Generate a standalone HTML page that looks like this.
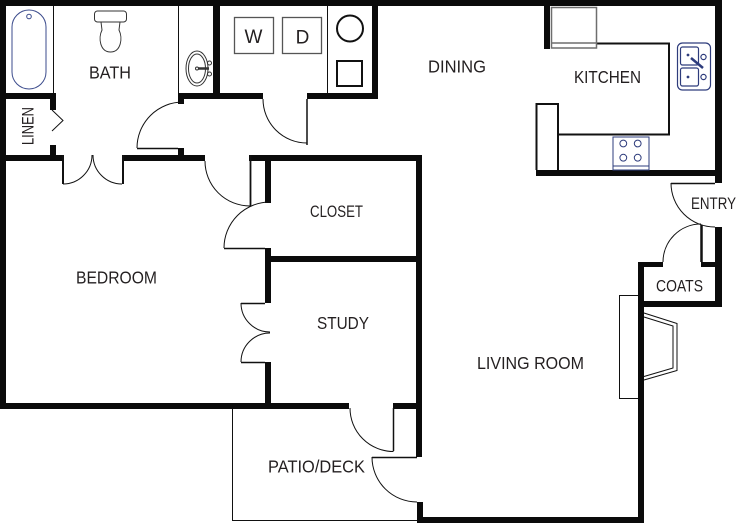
<!DOCTYPE html>
<html><head><meta charset="utf-8"><style>
html,body{margin:0;padding:0;background:#fff;}
svg{display:block;}
text{font-family:"Liberation Sans",Arial,sans-serif;fill:#231f20;}
</style></head><body>
<svg width="736" height="524" viewBox="0 0 736 524" xmlns="http://www.w3.org/2000/svg">
<rect width="736" height="524" fill="#fff"/>

<!-- thin partition lines -->
<g stroke="#111" stroke-width="1" fill="none">
  <line x1="53.5" y1="6" x2="53.5" y2="93"/>
  <line x1="178.5" y1="6" x2="178.5" y2="93"/>
  <line x1="327.5" y1="6" x2="327.5" y2="93"/>
  <polyline points="232.5,408 232.5,520.5 417,520.5"/>
  <rect x="619.5" y="295.5" width="19" height="103"/>
  <polyline points="644,313 677,323.5 677,370.5 644,380"/>
  <polyline points="644,317 673,326 673,368 644,376.5"/>
  <polyline points="52,110 63,120.5 52,131"/>
</g>

<!-- walls -->
<g fill="#0b0b0b">
  <rect x="0" y="0" width="722" height="6"/>
  <rect x="0" y="0" width="6" height="409"/>
  <rect x="0" y="93" width="56" height="6"/>
  <rect x="50" y="93" width="6" height="17"/>
  <rect x="50" y="145" width="6" height="16"/>
  <rect x="0" y="155" width="63" height="6"/>
  <rect x="122" y="155" width="83" height="6"/>
  <rect x="178" y="148" width="6" height="13"/>
  <rect x="178" y="93" width="85" height="6"/>
  <rect x="178" y="93" width="6" height="11"/>
  <rect x="213" y="0" width="7" height="99"/>
  <rect x="307" y="93" width="71" height="6"/>
  <rect x="372" y="0" width="6" height="99"/>
  <rect x="249" y="155" width="173" height="6"/>
  <rect x="265" y="155" width="6" height="48"/>
  <rect x="265" y="256" width="157" height="6"/>
  <rect x="265" y="248" width="6" height="55"/>
  <rect x="265" y="362" width="6" height="46"/>
  <rect x="416" y="155" width="6" height="302"/>
  <rect x="0" y="403" width="349" height="6"/>
  <rect x="393" y="403" width="29" height="6"/>
  <rect x="417" y="502" width="6" height="21"/>
  <rect x="417" y="517" width="227" height="6"/>
  <rect x="638" y="262" width="6" height="261"/>
  <rect x="638" y="262" width="25" height="5"/>
  <rect x="701" y="262" width="21" height="5"/>
  <rect x="638" y="301" width="84" height="6"/>
  <rect x="715" y="227" width="7" height="80"/>
  <rect x="715" y="0" width="7" height="183"/>
  <rect x="536" y="170" width="186" height="6"/>
  <rect x="544" y="0" width="6" height="49"/>
</g>

<!-- door arcs -->
<g stroke="#111" stroke-width="1" fill="none">
  <path d="M92,155 A29,29 0 0 1 63,184"/>
  <path d="M93,155 A29,29 0 0 0 122,184"/>
  <path d="M137,148 A46,46 0 0 1 183,102"/>
  <path d="M263,99 A44,44 0 0 0 307,143"/>
  <path d="M205,161 A45,45 0 0 0 250,206"/>
  <path d="M270,202 A46,46 0 0 0 224,248"/>
  <path d="M241,303 A29,29 0 0 0 270,332"/>
  <path d="M241,362 A29,29 0 0 1 270,333"/>
  <path d="M350,408 A43.5,43.5 0 0 0 393.5,451.5"/>
  <path d="M372,457 A45,45 0 0 0 417,502"/>
  <path d="M671,183 A44,44 0 0 0 715,227"/>
  <path d="M701,224 A38,38 0 0 0 663,262"/>
</g>

<!-- door leaves & jambs -->
<g stroke="#111" fill="none">
  <line x1="63" y1="155" x2="63" y2="184" stroke-width="2"/>
  <line x1="123" y1="155" x2="123" y2="184" stroke-width="2"/>
  <line x1="137" y1="148.5" x2="178" y2="148.5" stroke-width="1.5"/>
  <line x1="307" y1="99" x2="307" y2="145" stroke-width="1.5"/>
  <line x1="250.5" y1="155" x2="250.5" y2="206" stroke-width="1.8"/>
  <line x1="224" y1="248.5" x2="265" y2="248.5" stroke-width="1.5"/>
  <line x1="241" y1="303.5" x2="265" y2="303.5" stroke-width="1.5"/>
  <line x1="241" y1="362.5" x2="265" y2="362.5" stroke-width="1.5"/>
  <line x1="393.5" y1="408" x2="393.5" y2="451" stroke-width="1.5"/>
  <line x1="372" y1="457.5" x2="417" y2="457.5" stroke-width="1.5"/>
  <line x1="671" y1="183.5" x2="715" y2="183.5" stroke-width="1.5"/>
  <line x1="701.5" y1="225" x2="701.5" y2="262" stroke-width="2.5"/>
</g>

<!-- kitchen counter -->
<g stroke="#111" stroke-width="2" fill="none">
  <polyline points="597,43.5 669,43.5 669,134.5 558,134.5"/>
  <polyline points="536.5,170 536.5,104 558,104 558,170"/>
</g>

<!-- fridge -->
<g stroke="#6e6e6e" stroke-width="1.5" fill="none">
  <rect x="551.5" y="7.5" width="45" height="40.5"/>
  <line x1="551.5" y1="43" x2="596.5" y2="43"/>
</g>

<!-- stove -->
<g stroke="#2e3c7c" stroke-width="1" fill="none">
  <rect x="613" y="137" width="36" height="33"/>
  <line x1="613" y1="166" x2="649" y2="166"/>
  <circle cx="623.3" cy="143.5" r="3.4"/>
  <circle cx="637.7" cy="143.5" r="3.4"/>
  <circle cx="623.3" cy="157.7" r="3.4"/>
  <circle cx="637.7" cy="157.7" r="3.4"/>
</g>

<!-- kitchen sink -->
<g stroke="#2e3c7c" stroke-width="1.2" fill="none">
  <rect x="677.5" y="43" width="33" height="47" rx="5"/>
  <rect x="680.5" y="47" width="18" height="18" rx="2"/>
  <rect x="680.5" y="68" width="18" height="18" rx="2"/>
  <circle cx="703.5" cy="57" r="2.6"/>
  <circle cx="703.5" cy="77" r="2.6"/>
  <line x1="691" y1="58" x2="703" y2="68" stroke-width="2.5"/>
  <circle cx="688" cy="55" r="0.8" fill="#2e3c7c"/>
  <circle cx="688" cy="77" r="0.8" fill="#2e3c7c"/>
</g>

<!-- tub -->
<g stroke="#3b4b8c" stroke-width="1" fill="none">
  <rect x="12" y="10" width="34" height="79" rx="17"/>
  <circle cx="29" cy="16.5" r="2.3"/>
</g>

<!-- toilet -->
<g stroke="#333" stroke-width="1" fill="none">
  <rect x="94.5" y="11" width="32" height="11" rx="3"/>
  <path d="M101,22 L102,30 C98,38 100,52 110.5,52 C121,52 123,38 119,30 L120,22"/>
</g>

<!-- bath sink -->
<g stroke="#333" stroke-width="1" fill="none">
  <ellipse cx="197" cy="68.5" rx="11" ry="17.5"/>
  <ellipse cx="197" cy="68.5" rx="8.5" ry="14.5"/>
  <line x1="198" y1="68.5" x2="209" y2="68.5" stroke-width="2.5"/>
  <circle cx="209.5" cy="63" r="2"/>
  <circle cx="209.5" cy="74" r="2"/>
  <circle cx="197" cy="68.5" r="1.5"/>
</g>

<!-- washer / dryer -->
<g stroke="#555" stroke-width="1.3" fill="none">
  <rect x="234.5" y="17.5" width="39" height="36"/>
  <rect x="282.5" y="17.5" width="39" height="36"/>
</g>

<!-- water heater closet -->
<g stroke="#111" stroke-width="2" fill="none">
  <circle cx="350" cy="28.5" r="13"/>
  <rect x="337" y="61" width="25" height="25"/>
</g>

<!-- labels -->
<g font-size="17.5" text-anchor="middle">
  <text x="110" y="78.3" textLength="42" lengthAdjust="spacingAndGlyphs">BATH</text>
  <text x="457" y="72.3" textLength="58" lengthAdjust="spacingAndGlyphs">DINING</text>
  <text x="607.5" y="83" textLength="67" lengthAdjust="spacingAndGlyphs">KITCHEN</text>
  <text x="116.5" y="283.3" textLength="81" lengthAdjust="spacingAndGlyphs">BEDROOM</text>
  <text x="343" y="329" textLength="52" lengthAdjust="spacingAndGlyphs">STUDY</text>
  <text x="316.5" y="472.3" textLength="97" lengthAdjust="spacingAndGlyphs">PATIO/DECK</text>
  <text x="530.5" y="369" textLength="107" lengthAdjust="spacingAndGlyphs">LIVING ROOM</text>
</g>
<g font-size="16.5" text-anchor="middle">
  <text x="336.5" y="216.8" textLength="53" lengthAdjust="spacingAndGlyphs">CLOSET</text>
  <text x="713.5" y="209" textLength="45" lengthAdjust="spacingAndGlyphs">ENTRY</text>
  <text x="679.5" y="291.5" textLength="47" lengthAdjust="spacingAndGlyphs">COATS</text>
  <text transform="translate(33.5,126) rotate(-90)" x="0" y="0" textLength="38" lengthAdjust="spacingAndGlyphs">LINEN</text>
</g>
<g font-size="19" text-anchor="middle">
  <text x="253.5" y="43">W</text>
  <text x="302.5" y="43.5">D</text>
</g>
</svg>
</body></html>
